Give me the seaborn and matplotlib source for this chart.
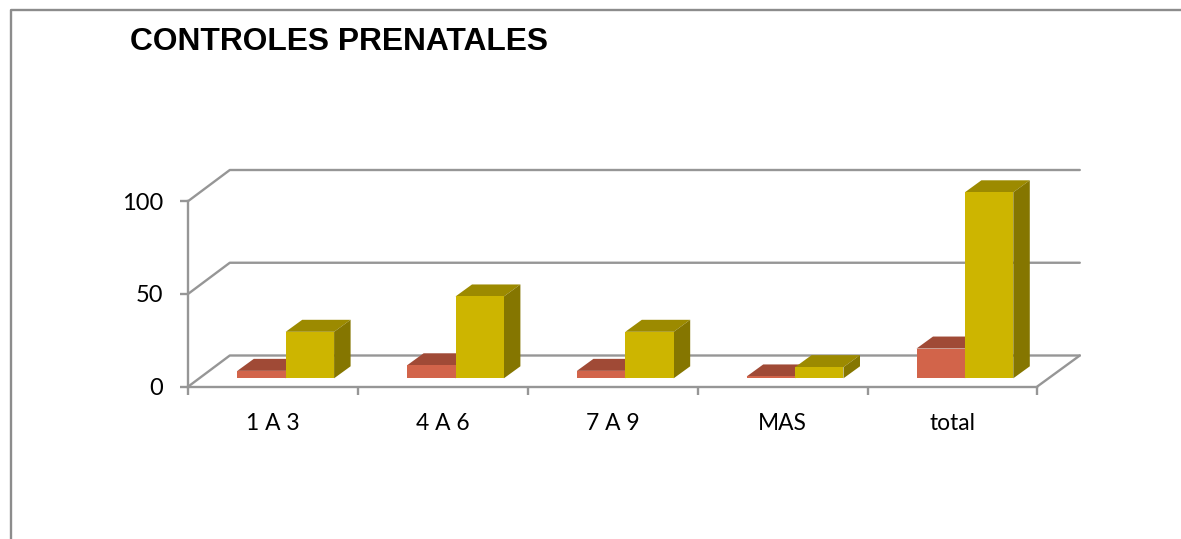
import numpy as np
import pandas as pd
import matplotlib
matplotlib.use("Agg")
import matplotlib.pyplot as plt
from matplotlib.patches import Polygon
from matplotlib.lines import Line2D
import seaborn as sns

# data
categorias = ["1 A 3", "4 A 6", "7 A 9", "MAS", "total"]
serie_roja = [4, 7, 4, 1, 16]
serie_amarilla = [25, 44, 25, 6, 100]
ticks_y = [0, 50, 100]

W, H = 1181, 539
LINE = "#969696"
LW = 1.7
FRONT = {"a": "#D2644A", "b": "#CDB500"}
TOP = {"a": "#A04A36", "b": "#9C8A00"}
SIDE = {"a": "#7F3A2A", "b": "#857600"}
BAR_DX, BAR_DY = 16.5, 12   # bar depth in px
WALL_DX, WALL_DY = 41.5, 31 # chart depth in px

sns.set_theme(style="white")
plt.rcParams["font.family"] = ["Lato", "DejaVu Sans"]

df = pd.DataFrame({
    "categoria": categorias * 2,
    "serie": ["a"] * len(categorias) + ["b"] * len(categorias),
    "valor": serie_roja + serie_amarilla,
})

def box(left, right, y_bottom, y_top):
    # pixel box (y from the top of the image) to figure fractions
    return [left / W, 1 - y_bottom / H, (right - left) / W, (y_bottom - y_top) / H]

fig = plt.figure(figsize=(W / 100, H / 100), dpi=100, facecolor="white")

# full figure layer, pixel coords, for everything the 3d look needs
bg = fig.add_axes([0, 0, 1, 1], zorder=0)
bg.set_xlim(0, W)
bg.set_ylim(H, 0)
bg.axis("off")

# front plane of the chart: the axis with ticks and labels
ax_axis = fig.add_axes(box(188.3, 1037.3, 386.5, 201), zorder=1)
ax_axis.patch.set_alpha(0)
ax_axis.set_xlim(0, len(categorias))
ax_axis.set_ylim(0, 100)
ax_axis.set_yticks(ticks_y)
ax_axis.set_xticks(np.arange(len(categorias) + 1))
ax_axis.set_xticklabels([])
ax_axis.set_xticks(np.arange(len(categorias)) + 0.5, categorias, minor=True)
for s in ["top", "right"]:
    ax_axis.spines[s].set_visible(False)
for s in ["left", "bottom"]:
    ax_axis.spines[s].set_color(LINE)
    ax_axis.spines[s].set_linewidth(LW)
ax_axis.tick_params(axis="y", which="major", left=True, length=6, width=LW, color=LINE, labelsize=17, labelcolor="black", pad=12)
ax_axis.tick_params(axis="x", which="major", bottom=True, length=6, width=LW, color=LINE)
ax_axis.tick_params(axis="x", which="minor", bottom=False, labelsize=16.4, labelcolor="black", pad=15)

# bars sit a bit inside the floor
ax_bars = fig.add_axes(box(200.8, 1049.8, 378.3, 192.3), zorder=2)
ax_bars.patch.set_alpha(0)
sns.barplot(data=df, x="categoria", y="valor", hue="serie", palette=FRONT, order=categorias,
            width=0.57, gap=0, saturation=1, legend=False, linewidth=0, ax=ax_bars)
ax_bars.set_xlim(-0.5, len(categorias) - 0.5)
ax_bars.set_ylim(0, 100)
ax_bars.axis("off")

fig.canvas.draw()

def to_px(ax, x, y):
    px, py = ax.transData.transform((x, y))
    return px, H - py

# back wall and floor lines, taken from the axis scale
for v in ticks_y:
    x0, y0 = to_px(ax_axis, 0, v)
    x1, y1 = to_px(ax_axis, len(categorias), v)
    bg.plot([x0, x0 + WALL_DX, x1 + WALL_DX + 1], [y0, y0 - WALL_DY, y0 - WALL_DY], color=LINE, lw=LW, zorder=1)
x1, y1 = to_px(ax_axis, len(categorias), 0)
bg.plot([x1, x1 + WALL_DX + 1], [y1, y1 - WALL_DY], color=LINE, lw=LW, zorder=1)

# top and side faces of each bar
n = len(categorias)
series = ["a"] * n + ["b"] * n
for patch, s in zip(ax_bars.patches, series):
    b = patch.get_bbox()
    xl, yt = to_px(ax_bars, b.x0, b.y1)
    xr, yb = to_px(ax_bars, b.x1, b.y0)
    bg.add_patch(Polygon([(xl, yt), (xr, yt), (xr + BAR_DX, yt - BAR_DY), (xl + BAR_DX, yt - BAR_DY)],
                         closed=True, fc=TOP[s], ec="none", zorder=3))
    bg.add_patch(Polygon([(xr, yt), (xr + BAR_DX, yt - BAR_DY), (xr + BAR_DX, yb - BAR_DY), (xr, yb)],
                         closed=True, fc=SIDE[s], ec="none", zorder=3))

# outer frame, only top and left are in the image
bg.add_line(Line2D([11, 11, W], [H, 9.5, 9.5], color="#8c8c8c", lw=LW, zorder=1))

fig.text(130 / W, 1 - 49.5 / H, "CONTROLES PRENATALES", family=["Liberation Sans"], weight="bold",
         fontsize=22.9, color="black", ha="left", va="baseline")

fig.savefig("out.png", dpi=100)
plt.close()
